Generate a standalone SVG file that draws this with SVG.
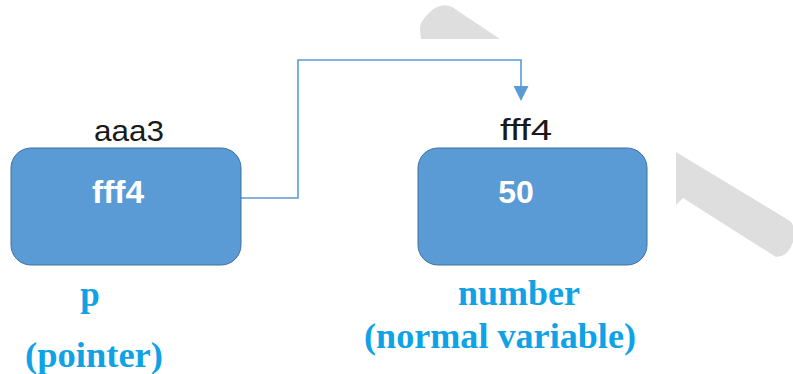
<svg xmlns="http://www.w3.org/2000/svg" width="793" height="374" viewBox="0 0 793 374">
<defs>
<style>
.box{fill:#5B9BD5;stroke:#41719C;stroke-width:1}
.inner{font-family:"Liberation Sans",Arial,sans-serif;font-weight:bold;font-size:32px;fill:#FFFFFF;text-anchor:middle}
.addr{font-family:"Liberation Sans",Arial,sans-serif;font-size:30px;fill:#1a1a1a;text-anchor:middle}
.name{font-family:"Liberation Serif","Times New Roman",serif;font-weight:bold;font-size:35px;fill:#0FA3E6;text-anchor:middle}
.wm{fill:#DEDEDE}
.conn{fill:none;stroke:#5B9BD5;stroke-width:1.6}
</style>
</defs>
<rect width="793" height="374" fill="#FFFFFF"/>
<g id="watermark">
<path class="wm" d="M421,39 L420,30 Q419,22 430,12 Q441,2 452,7 L500,39 Z"/>
<path class="wm" d="M676,152 L790,221 Q796,226 793,242 Q788,257 776,257 L683,198 L676,205 Z"/>
</g>
<g id="connectors">
<path class="conn" d="M241,198 H298 V60 H521 V88"/>
<polygon points="513.5,86 528.5,86 521,101" fill="#5B9BD5"/>
</g>
<g id="node-p">
<rect class="box" x="11" y="148" width="230" height="117" rx="20" ry="20"/>
<text class="inner" x="118" y="203" textLength="52" lengthAdjust="spacingAndGlyphs">fff4</text>
<text class="addr" x="129" y="141" textLength="70" lengthAdjust="spacingAndGlyphs">aaa3</text>
<text class="name" x="90" y="306">p</text>
<text class="name" x="94" y="367" textLength="138" lengthAdjust="spacingAndGlyphs">(pointer)</text>
</g>
<g id="node-number">
<rect class="box" x="418" y="148" width="229" height="117" rx="20" ry="20"/>
<text class="inner" x="516" y="203">50</text>
<text class="addr" x="526" y="140" textLength="52" lengthAdjust="spacingAndGlyphs">fff4</text>
<text class="name" x="519" y="305" textLength="122" lengthAdjust="spacingAndGlyphs">number</text>
<text class="name" x="500" y="348" textLength="272" lengthAdjust="spacingAndGlyphs">(normal variable)</text>
</g>
</svg>
